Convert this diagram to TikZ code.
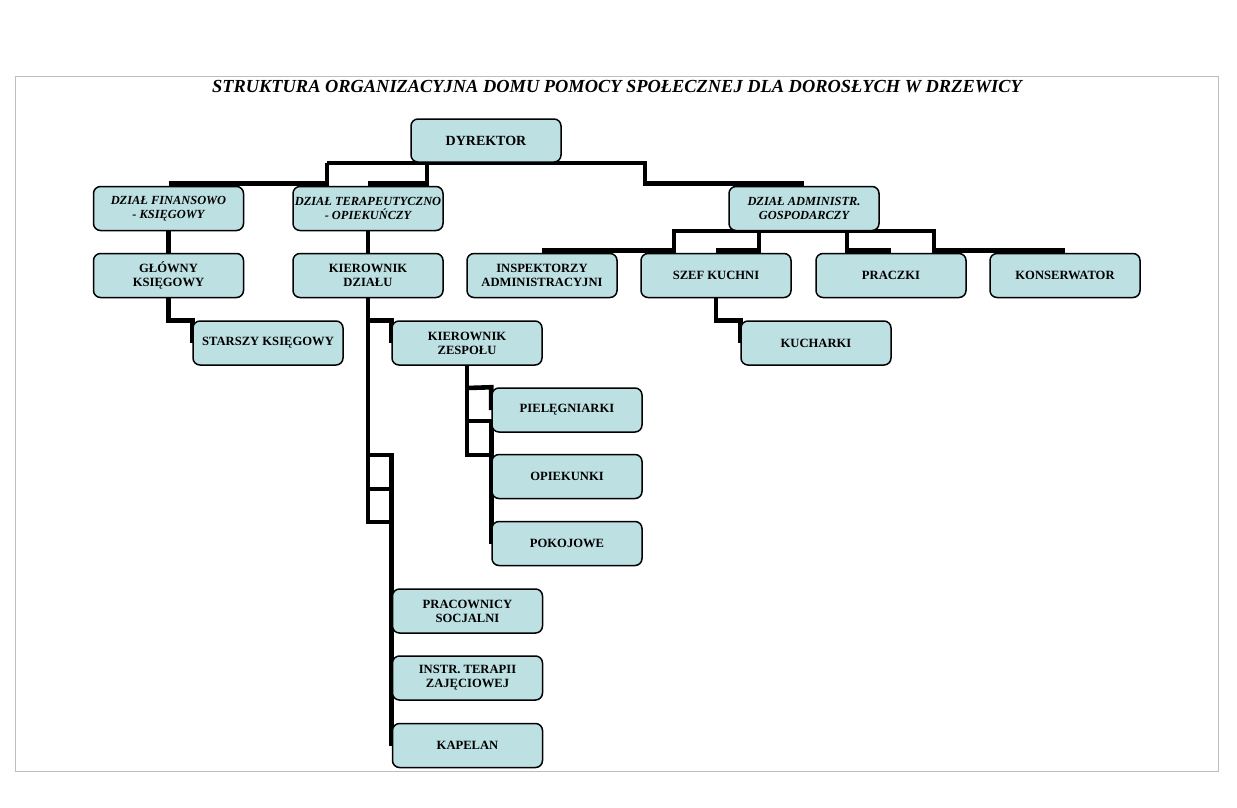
\documentclass[tikz,border=0pt]{standalone}
\usepackage{fontspec}
\setmainfont{Liberation Serif}
\usetikzlibrary{backgrounds}
\definecolor{boxfill}{RGB}{189,224,227}
\definecolor{framegray}{RGB}{190,190,190}
\tikzset{
  orgbox/.style={draw=black, line width=1.5pt, fill=boxfill, rounded corners=7pt,
    minimum width=150pt, minimum height=44pt, inner sep=1pt, align=center,
    font=\bfseries\fontsize{12.6}{14}\selectfont},
  deptbox/.style={orgbox, font=\bfseries\itshape\fontsize{12.4}{14}\selectfont},
  conn/.style={draw=black, line width=4.6pt, line join=miter}
}
\begin{document}
\begin{tikzpicture}[x=1pt,y=-1pt]
\useasboundingbox (0,0) rectangle (1237,808);
\begin{scope}[on background layer]
\fill[white] (0,0) rectangle (1237,808);
\draw[framegray, line width=1pt] (15,77) rectangle (1218,771);
\end{scope}
\node[font=\bfseries\itshape\fontsize{18.4}{20}\selectfont] (title) at (617,87)
  {STRUKTURA ORGANIZACYJNA DOMU POMOCY SPOŁECZNEJ DLA DOROSŁYCH W DRZEWICY};

\node[orgbox, minimum height=43pt, font=\bfseries\fontsize{14}{16}\selectfont] (dyr) at (486,140.5) {DYREKTOR};
\node[deptbox] (fin) at (168.5,208.5) {DZIAŁ FINANSOWO\\- KSIĘGOWY};
\node[deptbox] (ter) at (368,208.5) {DZIAŁ TERAPEUTYCZNO\\- OPIEKUŃCZY};
\node[deptbox] (adm) at (804,208.5) {DZIAŁ ADMINISTR.\\GOSPODARCZY};
\node[orgbox] (glo) at (168.5,275.5) {GŁÓWNY\\KSIĘGOWY};
\node[orgbox] (kd) at (368,275.5) {KIEROWNIK\\DZIAŁU};
\node[orgbox] (sta) at (268,343) {STARSZY KSIĘGOWY};
\node[orgbox] (kz) at (467,343) {KIEROWNIK\\ZESPOŁU};
\node[orgbox] (pie) at (567,410) {PIELĘGNIARKI};
\node[orgbox] (opi) at (567,476.5) {OPIEKUNKI};
\node[orgbox] (pok) at (567,543.5) {POKOJOWE};
\node[orgbox] (prs) at (467.5,611) {PRACOWNICY\\SOCJALNI};
\node[orgbox] (ins) at (467.5,678) {INSTR. TERAPII\\ZAJĘCIOWEJ};
\node[orgbox] (kap) at (467.5,745.5) {KAPELAN};
\node[orgbox] (insp) at (542,275.5) {INSPEKTORZY\\ADMINISTRACYJNI};
\node[orgbox] (szef) at (716,275.5) {SZEF KUCHNI};
\node[orgbox] (pra) at (891,275.5) {PRACZKI};
\node[orgbox] (kon) at (1065,275.5) {KONSERWATOR};
\node[orgbox] (kuc) at (816,343) {KUCHARKI};

\begin{scope}[on background layer]
% director level
\coordinate (dl) at (327,163);
\coordinate (dm) at (427,163);
\coordinate (dr) at (645,163);
\draw[conn] ([yshift=2pt]fin.north) -| (dl);
\draw[conn] ([yshift=2pt]ter.north) -| (dm);
\draw[conn] (dl) -- (dr) |- ([yshift=2pt]adm.north);
% finance
\draw[conn] (fin.south) -- (glo.north);
\draw[conn] (glo.south) |- (sta.north west) -- (sta.west);
% therapy
\draw[conn] (ter.south) -- (kd.north);
\draw[conn] (kd.south) |- (kz.north west) -- (kz.west);
\coordinate (k1) at (kd.south |- 0,455);
\coordinate (k2) at (kd.south |- 0,489);
\coordinate (k3) at (kd.south |- 0,522);
\draw[conn] (kd.south) -- (k3) -- (kap.west |- k3);
\draw[conn] (k1) -- (kap.west |- k1) -- (kap.west);
\draw[conn] (k2) -- (kap.west |- k2);
\coordinate (z1) at (kz.south |- 0,388);
\coordinate (z2) at (kz.south |- 0,421);
\coordinate (z3) at (kz.south |- 0,455);
\draw[conn] (kz.south) -- (z3) -- (pok.west |- z3);
\draw[conn] (z1) -- (pie.north west) -- (pie.west);
\draw[conn] (z2) -- (pok.west |- z2) -- (pok.west);
% administration
\coordinate (a1) at (674,231);
\coordinate (a2) at (759,231);
\coordinate (a3) at (847,231);
\coordinate (a4) at (934,231);
\draw[conn] ([yshift=2pt]insp.north) -| (a1) -- (a4) |- ([yshift=2pt]kon.north);
\draw[conn] ([yshift=2pt]szef.north) -| (a2);
\draw[conn] ([yshift=2pt]pra.north) -| (a3);
\draw[conn] (szef.south) |- (kuc.north west) -- (kuc.west);
\end{scope}
\end{tikzpicture}
\end{document}
